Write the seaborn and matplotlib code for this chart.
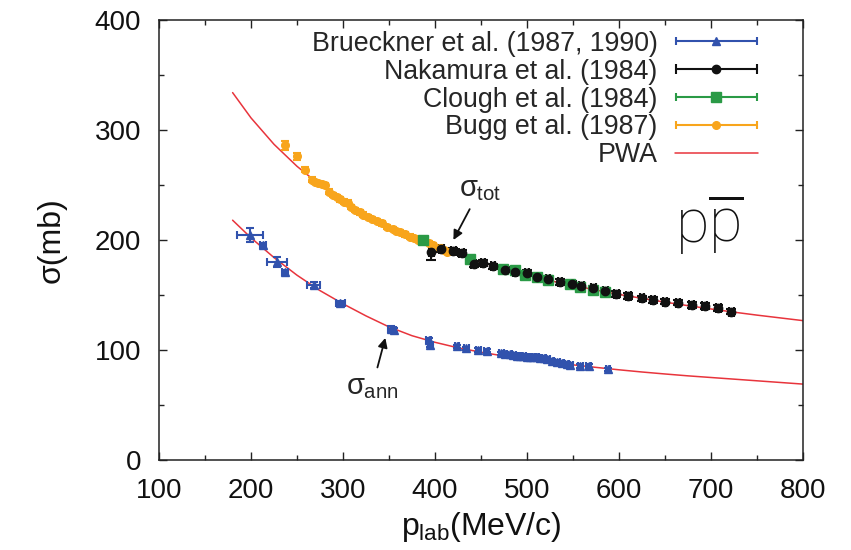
import numpy as np
import seaborn as sns
import matplotlib
matplotlib.use('Agg')
import matplotlib.pyplot as plt
from matplotlib.container import ErrorbarContainer
from matplotlib.legend_handler import HandlerErrorbar

# ---------------------------------------------------------------------------
# data (p_lab in MeV/c, sigma in mb)
# ---------------------------------------------------------------------------
pwa_p = [180, 200, 225, 250, 275, 300, 325, 350, 375, 400, 425, 450, 475,
         500, 525, 550, 575, 600, 625, 650, 675, 700, 725, 750, 775, 800]
pwa_tot = [334, 311, 287, 267, 250, 236, 223, 212, 203, 194, 186.5, 180, 173.5,
           168, 163, 158.7, 154.5, 150.5, 147, 143.5, 140.3, 137.3, 134.4, 131.7, 129.2, 126.7]
pwa_ann = [218, 202, 184, 168, 154, 142, 131, 121, 113, 107, 102, 98, 94.5,
           91.5, 89, 86.5, 84.2, 82, 80, 78.2, 76.5, 75, 73.5, 72, 70.5, 69]

bru_p = [199, 213, 228, 237, 268, 297, 352, 355, 393, 395, 424, 434, 447, 456,
         472, 476, 481, 485, 489, 492, 496, 500, 503, 507, 511, 514, 518, 522,
         527, 533, 538, 543, 547, 558, 567, 588]
bru_s = [204.5, 195.5, 180, 171, 159, 142.5, 119.5, 118, 109, 104.5, 103.5, 101.5, 100, 99.5,
         97, 96.5, 96, 95.5, 95, 94.5, 94.5, 94, 94, 93.5, 93.5, 93, 92.5, 92,
         90, 89, 88.5, 87.5, 86.5, 85.5, 85.5, 82.5]
bru_dp = [14, 3, 11, 3, 7, 5, 3, 3, 3, 3, 2.5, 2.5, 2.5, 2.5,
          2.5, 2.5, 2.5, 2.5, 2.5, 2.5, 2.5, 2.5, 2.5, 2.5, 2.5, 2.5, 2.5, 2.5,
          2.5, 2.5, 2.5, 2.5, 2.5, 2.5, 2.5, 2.5]
bru_ds = [6, 2, 4.5, 2, 3, 2, 2, 2, 2, 2, 1.5, 1.5, 1.5, 1.5,
          1.5, 1.5, 1.5, 1.5, 1.5, 1.5, 1.5, 1.5, 1.5, 1.5, 1.5, 1.5, 1.5, 1.5,
          1.5, 1.5, 1.5, 1.5, 1.5, 1.5, 1.5, 1.5]

nak_p = [396, 407, 420, 429, 442, 452, 463, 476, 487, 500, 511, 523, 536, 549,
         559, 572, 585, 597, 610, 625, 637, 650, 664, 679, 693, 708, 722]
nak_s = [189, 191.5, 190, 188, 178, 179, 176, 173, 171, 170, 166, 165, 162, 160,
         158, 156, 154, 151, 149, 147, 145.5, 144, 143, 141, 140, 138, 135]
nak_ds = [7.5, 2.5, 2.5, 2.5, 2.5, 2.5, 2.5, 2.5, 2.5, 2.5, 2.5, 2.5, 2.5, 2.5,
          2.5, 2.5, 2.5, 2.5, 2.5, 2.5, 2.5, 2.5, 2.5, 2.5, 2.5, 2.5, 2.5]

clo_p = [387, 438, 474, 487, 498, 511, 523, 547, 558, 572, 585]
clo_s = [200, 183, 174, 173, 168, 166, 164, 160, 157, 155, 153]

bug_p = [237, 250, 259, 266, 270, 273, 277, 280, 285, 289, 293, 297, 301, 305,
         309, 313, 318, 322, 327, 332, 337, 342, 348, 354, 358, 362, 367, 373,
         377, 382, 388, 393, 398, 405, 410, 413]
bug_s = [286, 276, 264, 255, 253, 252, 251, 250, 244, 241, 239, 237, 235, 234,
         230, 227, 225, 223, 221, 219, 217, 215, 212, 210, 208, 207, 205, 203,
         202, 200, 199, 197, 195, 193, 191, 189]
bug_ds = [4, 3.5, 2.5, 2, 2, 2, 2, 2, 2, 2, 2, 2, 2, 2,
          2, 2, 2, 2, 2, 2, 2, 2, 2, 2, 2, 2, 2, 2,
          2, 2, 2, 2, 2, 2, 2, 2]

labels = ['Brueckner et al. (1987, 1990)', 'Nakamura et al. (1984)',
          'Clough et al. (1984)', 'Bugg et al. (1987)', 'PWA']

BLUE = '#3152ad'
BLACK = '#111111'
GREEN = '#2a9a46'
ORANGE = '#f8a51c'
RED = '#e8343c'

sns.set_theme(style='ticks')
plt.rcParams.update({
    'font.family': ['Liberation Sans', 'DejaVu Sans'],
    'mathtext.fontset': 'custom',
    'mathtext.rm': 'Liberation Sans',
    'mathtext.it': 'Liberation Sans',
    'mathtext.bf': 'Liberation Sans:bold',
    'mathtext.sf': 'Liberation Sans',
    'axes.edgecolor': '#222222',
    'axes.linewidth': 1.1,
})

fig = plt.figure(figsize=(8.51, 5.5), dpi=100)
ax = fig.add_axes([159 / 851, 1 - 460 / 550, 644 / 851, 440 / 550])

# PWA curves
sns.lineplot(x=pwa_p, y=pwa_tot, ax=ax, color=RED, lw=1.1, legend=False, zorder=1)
pwa_line = ax.lines[-1]
sns.lineplot(x=pwa_p, y=pwa_ann, ax=ax, color=RED, lw=1.1, legend=False, zorder=1)

# data sets
eb = dict(ls='none', elinewidth=1.5, capthick=1.5, zorder=3)
c_bug = ax.errorbar(bug_p, bug_s, yerr=bug_ds, fmt='o', ms=5.5, color=ORANGE,
                    capsize=3, **eb)
c_clo = ax.errorbar(clo_p, clo_s, yerr=1.5, fmt='s', ms=6.5, color=GREEN,
                    capsize=3, **eb)
c_bru = ax.errorbar(bru_p, bru_s, xerr=bru_dp, yerr=bru_ds, fmt='^', ms=5.5,
                    color=BLUE, capsize=3, **eb)
c_nak = ax.errorbar(nak_p, nak_s, xerr=2.5, yerr=nak_ds, fmt='o', ms=6,
                    color=BLACK, capsize=3.5, **eb)

# legend entries drawn gnuplot-style (horizontal bar with caps)
handles = []
for cont, lab in zip([c_bru, c_nak, c_clo, c_bug], labels[:4]):
    handles.append(ErrorbarContainer(cont.lines, has_xerr=True, has_yerr=False, label=lab))
handles.append(pwa_line)

leg = ax.legend(handles, labels, loc='upper right', bbox_to_anchor=(0.955, 1.012),
                frameon=False, fontsize=19.3, markerfirst=False, handlelength=3.1,
                handletextpad=0.65, labelspacing=0.07, borderaxespad=0.2,
                handler_map={ErrorbarContainer: HandlerErrorbar(xerr_size=1.5)})

# annotations
ax.annotate(r'$\sigma_{tot}$', xy=(420, 200), xytext=(426, 246), fontsize=21,
            ha='left', va='center',
            arrowprops=dict(arrowstyle='-|>', color='#111111', lw=1.3,
                            mutation_scale=14, shrinkA=2, shrinkB=0))
ax.annotate(r'$\sigma_{ann}$', xy=(346, 111), xytext=(303, 66), fontsize=21,
            ha='left', va='center',
            arrowprops=dict(arrowstyle='-|>', color='#111111', lw=1.3,
                            mutation_scale=14, shrinkA=2, shrinkB=0))
ax.text(661, 197, r'$\mathregular{p\overline{p}}$', fontsize=44,
        family=['Roboto', 'Liberation Sans'], fontweight='light',
        ha='left', va='baseline', color='#111111')

# axes
ax.set_xlim(100, 800)
ax.set_ylim(0, 400)
ax.set_xticks(np.arange(100, 801, 100))
ax.set_yticks(np.arange(0, 401, 100))
ax.set_xticks(np.arange(150, 800, 100), minor=True)
ax.set_yticks(np.arange(50, 400, 100), minor=True)
ax.tick_params(which='both', direction='in', top=True, right=True,
               colors='#222222', labelcolor='#111111')
ax.tick_params(which='major', length=6, width=1.0, labelsize=20, pad=13)
ax.tick_params(which='minor', length=3.5, width=1.0)
ax.set_xlabel(r'$p_{lab}$(MeV/c)', fontsize=23, labelpad=4, color='#111111')
ax.set_ylabel('σ(mb)', fontsize=23, labelpad=20, color='#111111')

plt.savefig('out.png', dpi=100)
